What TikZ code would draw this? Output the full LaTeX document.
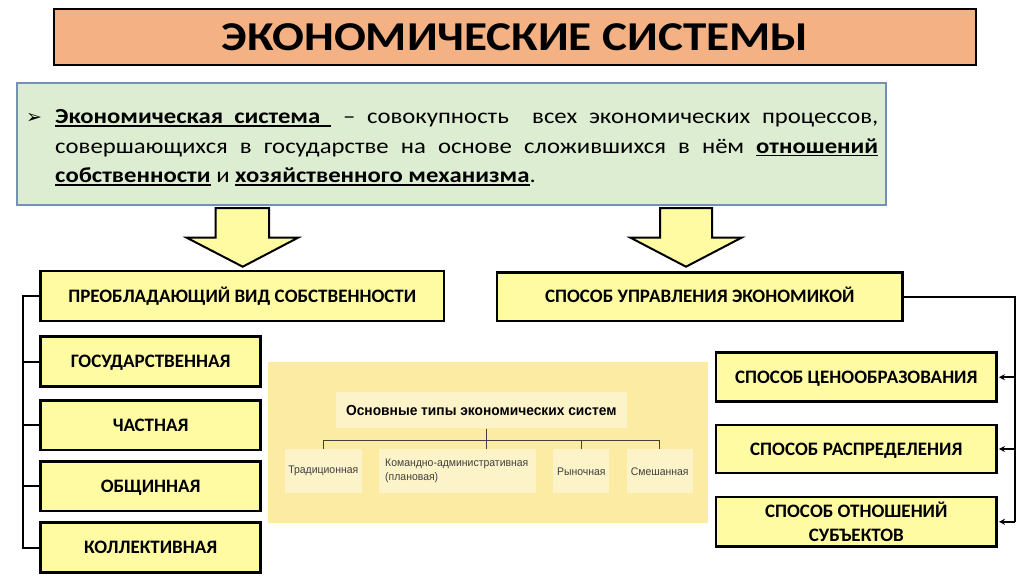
\documentclass[tikz,border=0pt]{standalone}
\usepackage{fontspec}
\setmainfont{Carlito}
\newfontfamily\widef[FakeStretch=1.15]{Carlito}
\newfontfamily\symf{DejaVu Sans}
\newfontfamily\narrowf[FakeStretch=0.95]{Liberation Sans}
\usetikzlibrary{arrows.meta,calc}
\definecolor{ttl}{HTML}{F4B183}
\definecolor{defg}{HTML}{DDEDD2}
\definecolor{defb}{HTML}{7391B5}
\definecolor{yel}{HTML}{FFFBA3}
\definecolor{pan}{HTML}{FCEBA2}
\definecolor{panl}{HTML}{FDF3C8}
\definecolor{plc}{HTML}{404040}
\newcommand\myul[1]{\setbox0\hbox{#1}\rlap{\rule[-3pt]{\wd0}{1.6pt}}\box0\relax}
\begin{document}
\begin{tikzpicture}[x=1pt,y=-1pt,
  ybox/.style={draw=black,line width=2.5pt,fill=yel,align=center,inner sep=0pt,
    font=\fontsize{19}{24}\selectfont\bfseries},
  ybox1/.style={ybox,text height=12.2pt,text depth=0pt},
  conn/.style={draw=black,line width=2pt},
  blockarrow/.style={draw=black,line width=2pt,fill=yel,line join=miter},
  ptitle/.style={fill=panl,inner sep=0pt,font=\narrowf\fontsize{14.5}{16}\selectfont\bfseries},
  pchild/.style={fill=panl,inner sep=0pt,text=plc,font=\narrowf\fontsize{11}{14}\selectfont,minimum height=44pt},
  pline/.style={draw=plc,line width=0.8pt}
]
\useasboundingbox (0,0) rectangle (1024,576);

% title
\node[draw=black,line width=2pt,fill=ttl,minimum width=922pt,minimum height=56pt,inner sep=0pt,
  font=\widef\fontsize{41}{45}\selectfont\bfseries] (title) at (515,37) {ЭКОНОМИЧЕСКИЕ СИСТЕМЫ};

% definition
\node[draw=defb,line width=2pt,fill=defg,minimum width=869pt,minimum height=122pt,inner sep=0pt] (def) at (451.5,144) {};
\node[anchor=base west,inner sep=0pt,font=\symf\fontsize{19}{19}\selectfont] (bul) at (26,123) {➢};
\node[anchor=north west,inner sep=0pt,text width=823pt,align=justify,
  font=\widef\fontsize{21.5}{29.5}\selectfont] (deftext) at (55,102.85)
  {\hyphenpenalty=10000\exhyphenpenalty=10000\tolerance=10000\strut\myul{\textbf{Экономическая\ \ система}\ \ }\ – совокупность\ \ всех экономических процессов,\linebreak
  совершающихся в государстве на основе сложившихся в нём \myul{\textbf{отношений}}\linebreak
  \myul{\textbf{собственности}} и \myul{\textbf{хозяйственного механизма}}.};

% block arrows
\draw[blockarrow] (215.7,208) -- (269,208) -- (269,237.7) -- (298,237.7) -- (242.7,266.7) -- (186.7,237.7) -- (215.7,237.7) -- cycle;
\draw[blockarrow] (660,208) -- (712,208) -- (712,237.7) -- (741.5,237.7) -- (686,266.7) -- (630.5,237.7) -- (660,237.7) -- cycle;

% left column
\node[ybox1,minimum width=403.3pt,minimum height=50pt] (own) at (242.3,296) {ПРЕОБЛАДАЮЩИЙ ВИД СОБСТВЕННОСТИ};
\node[ybox1,minimum width=220pt,minimum height=50pt] (gos) at (150.7,361.7) {ГОСУДАРСТВЕННАЯ};
\node[ybox1,minimum width=220pt,minimum height=49.3pt] (chast) at (150.7,425.3) {ЧАСТНАЯ};
\node[ybox1,minimum width=220pt,minimum height=49.3pt] (obsh) at (150.7,486.3) {ОБЩИННАЯ};
\node[ybox1,minimum width=220pt,minimum height=50pt] (koll) at (150.7,547.7) {КОЛЛЕКТИВНАЯ};

\coordinate (lx) at (23.3,0);
\draw[conn] (own.west) -- (own.west -| lx) -- (koll.west -| lx) -- (koll.west);
\foreach \n in {gos,chast,obsh} \draw[conn] (\n.west -| lx) -- (\n.west);

% right column
\node[ybox1,minimum width=405.7pt,minimum height=48.3pt] (upr) at (699.8,296.8) {СПОСОБ УПРАВЛЕНИЯ ЭКОНОМИКОЙ};
\node[ybox1,minimum width=280.7pt,minimum height=49pt] (cen) at (856.3,377.2) {СПОСОБ ЦЕНООБРАЗОВАНИЯ};
\node[ybox1,minimum width=280.7pt,minimum height=48pt] (rasp) at (856.3,449) {СПОСОБ РАСПРЕДЕЛЕНИЯ};
\node[ybox,minimum width=280.7pt,minimum height=49.7pt] (otn) at (856.3,521.8) {СПОСОБ ОТНОШЕНИЙ\\СУБЪЕКТОВ};

\coordinate (rx) at (1015,0);
\draw[conn] (upr.east) -- (upr.east -| rx) -- (otn.east -| rx);
\foreach \n in {cen,rasp,otn} \draw[conn,-{Stealth[length=6pt,width=6pt]},shorten >=1pt] (\n.east -| rx) -- (\n.east);

% middle panel
\fill[pan] (268,361.7) rectangle (708,522.7);
\node[ptitle,minimum width=290.7pt,minimum height=36.6pt] (ot) at (481.3,410) {Основные типы экономических систем};
\node[pchild,minimum width=76.7pt] (trad) at (323.3,471.3) {Традиционная};
\node[pchild,minimum width=156.7pt,text width=145pt,align=left] (kom) at (457.7,471.3) {Командно-административная\\(плановая)};
\node[pchild,minimum width=56pt] (ryn) at (581.3,471.3) {Рыночная};
\node[pchild,minimum width=66pt] (sm) at (659.7,471.3) {Смешанная};
\coordinate (bar) at (0,440);
\draw[pline] ($(ot.south)+(5.4,0)$) coordinate (ob) -- (ob |- kom.north);
\draw[pline] (trad.north) -- (trad.north |- bar) -- (sm.north |- bar) -- (sm.north);
\draw[pline] (ryn.north) -- (ryn.north |- bar);
\end{tikzpicture}
\end{document}
